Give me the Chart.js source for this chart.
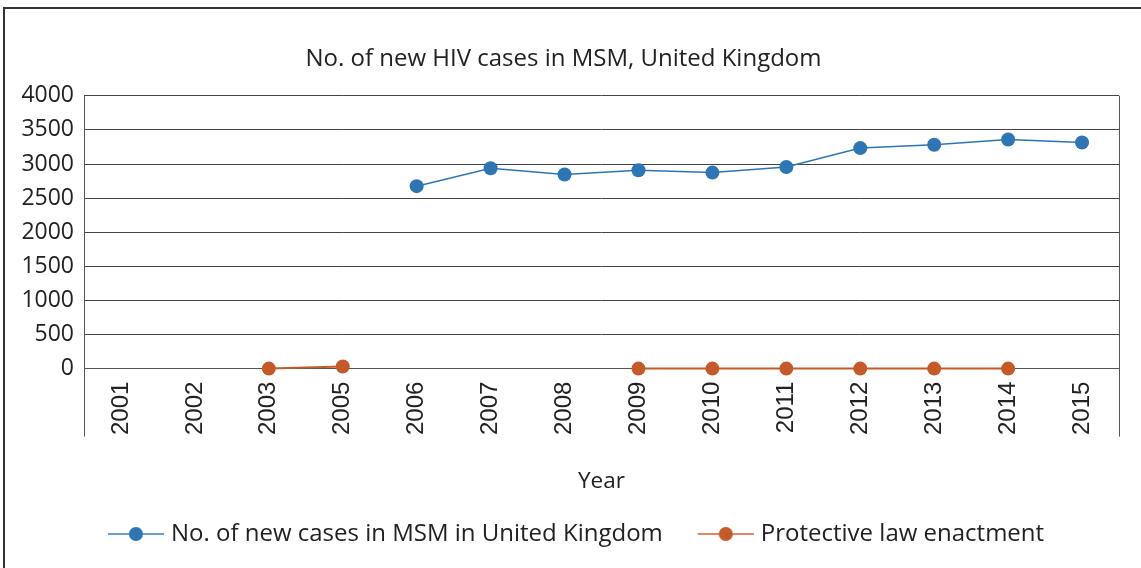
<!DOCTYPE html>
<html lang="en">
<head>
  <meta charset="UTF-8">
  <title>No. of new HIV cases in MSM, United Kingdom</title>
  <script src="https://cdn.jsdelivr.net/npm/chart.js"></script>
  <style>
    html, body { margin: 0; padding: 0; background: #fff; overflow: hidden; }
    #wrap { position: relative; width: 1141px; height: 568px; }
    #frame { position: absolute; left: 3px; top: 7px; width: 1200px; height: 600px;
             border-top: 2px solid #333; border-left: 2px solid #333; pointer-events: none; }
  </style>
</head>
<body>
  <div id="wrap">
    <canvas id="hivChart" width="1141" height="568"></canvas>
    <div id="frame"></div>
  </div>

  <script>
    // data
    const years = ['2001', '2002', '2003', '2005', '2006', '2007', '2008', '2009', '2010', '2011', '2012', '2013', '2014', '2015'];
    const newCases = [null, null, null, null, 2675, 2938, 2845, 2908, 2874, 2955, 3233, 3282, 3360, 3316];
    const lawEnactment = [null, null, 0, 30, null, null, null, 0, 0, 0, 0, 0, 0, null];
    const yTicks = [0, 500, 1000, 1500, 2000, 2500, 3000, 3500, 4000];

    const blue = '#2E75B6';
    const orange = '#C55A28';
    const FONT = '"Open Sans", sans-serif';

    // legend marker: short line with a dot in the middle (left part left blank for spacing)
    function legendMarker(color, lineColor) {
      const c = document.createElement('canvas');
      c.width = 86; c.height = 16;
      const g = c.getContext('2d');
      g.strokeStyle = lineColor; g.lineWidth = 2;
      g.beginPath(); g.moveTo(30, 8); g.lineTo(86, 8); g.stroke();
      g.fillStyle = color;
      g.beginPath(); g.arc(58, 8, 7, 0, Math.PI * 2); g.fill();
      return c;
    }

    // vertical plot edges that run down through the year labels
    const edgeLines = {
      id: 'edgeLines',
      afterDraw(chart) {
        const a = chart.chartArea, ctx = chart.ctx;
        ctx.save();
        ctx.strokeStyle = '#555'; ctx.lineWidth = 1;
        [a.left, a.right].forEach(x => {
          ctx.beginPath();
          ctx.moveTo(Math.round(x) + 0.5, a.top);
          ctx.lineTo(Math.round(x) + 0.5, a.bottom + 68);
          ctx.stroke();
        });
        ctx.restore();
      }
    };

    const ctx = document.getElementById('hivChart').getContext('2d');
    new Chart(ctx, {
      type: 'line',
      data: {
        labels: years,
        datasets: [
          {
            label: 'No. of new cases in MSM in United Kingdom',
            data: newCases,
            borderColor: blue, backgroundColor: blue,
            borderWidth: 1.5, pointRadius: 7, pointHoverRadius: 7,
            pointBackgroundColor: blue, pointBorderWidth: 0,
            clip: false
          },
          {
            label: 'Protective law enactment',
            data: lawEnactment,
            borderColor: orange, backgroundColor: orange,
            borderWidth: 2, pointRadius: 7, pointHoverRadius: 7,
            pointBackgroundColor: orange, pointBorderWidth: 0,
            clip: false
          }
        ]
      },
      options: {
        responsive: false,
        animation: false,
        layout: { padding: { top: 45, left: 8, right: 22, bottom: 12 } },
        plugins: {
          title: {
            display: true,
            text: 'No. of new HIV cases in MSM, United Kingdom',
            color: '#222',
            font: { family: FONT, size: 24, weight: 'normal' },
            padding: { top: 0, bottom: 22 }
          },
          legend: {
            position: 'bottom',
            labels: {
              color: '#222',
              font: { family: FONT, size: 24 },
              usePointStyle: true,
              pointStyleWidth: 76,
              padding: 10,
              generateLabels(chart) {
                return chart.data.datasets.map((ds, i) => ({
                  text: ds.label,
                  datasetIndex: i,
                  pointStyle: legendMarker(ds.borderColor, i === 0 ? '#6a9fd0' : '#d98b67'),
                  fillStyle: ds.borderColor,
                  strokeStyle: ds.borderColor,
                  lineWidth: 0,
                  fontColor: '#222'
                }));
              }
            }
          },
          tooltip: { enabled: false }
        },
        scales: {
          x: {
            offset: true,
            grid: { display: false, drawTicks: false },
            border: { display: true, color: '#555' },
            ticks: {
              color: '#222',
              font: { family: '"Liberation Sans", Arial, sans-serif', size: 24 },
              maxRotation: 90, minRotation: 90,
              padding: 13
            },
            title: {
              display: true,
              text: 'Year',
              color: '#222',
              font: { family: FONT, size: 22.5 },
              padding: { top: 20, bottom: 17 }
            }
          },
          y: {
            min: 0, max: 4000,
            afterBuildTicks(scale) { scale.ticks = yTicks.map(v => ({ value: v })); },
            afterFit(scale) { scale.width = 76; },
            grid: { color: '#444', drawTicks: false, lineWidth: 1 },
            border: { display: false },
            ticks: {
              color: '#222',
              font: { family: FONT, size: 23 },
              padding: 10,
              callback: v => String(v)
            }
          }
        }
      },
      plugins: [edgeLines]
    });
  </script>
</body>
</html>
